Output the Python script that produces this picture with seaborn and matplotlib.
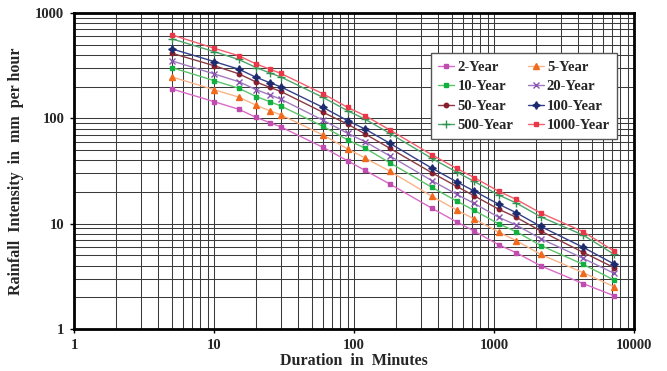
import matplotlib
matplotlib.use('Agg')
import matplotlib.pyplot as plt
import pandas as pd
import seaborn as sns
from matplotlib.ticker import FixedLocator, LogLocator, NullFormatter

durations = [5, 10, 15, 20, 25, 30, 60, 90, 120, 180, 360, 540, 720, 1080, 1440, 2160, 4320, 7200]

yr2 = [190, 144, 122, 102, 91, 83, 53, 39.5, 32, 23.8, 14, 10.4, 8.5, 6.3, 5.3, 3.97, 2.7, 2.07]
yr5 = [247, 187, 159, 133, 118, 108, 69.5, 51.3, 42, 31.5, 18.2, 13.5, 11.1, 8.3, 6.9, 5.1, 3.43, 2.52]
yr10 = [303, 228, 193, 161, 144, 131, 84, 62.4, 52, 37.9, 22.1, 16.4, 13.4, 9.95, 8.4, 6.2, 4.11, 2.92]
yr20 = [351, 264, 223, 187, 167, 152, 96, 72, 60, 44, 25.6, 19, 15.6, 11.5, 9.7, 7.2, 4.69, 3.38]
yr50 = [415, 316, 265, 221, 197, 180, 114, 88, 71, 52, 30.4, 22.6, 18.4, 13.7, 11.5, 8.5, 5.35, 3.82]
yr100 = [456, 346, 293, 245, 218, 199, 127, 95, 79, 58, 33.6, 25, 20.4, 15.3, 12.7, 9.4, 5.97, 4.14]
yr500 = [568, 430, 362, 303, 270, 247, 158, 118, 98, 72, 41.6, 30.9, 25.2, 18.7, 15.7, 11.6, 7.8, 5.12]
yr1000 = [620, 463, 393, 328, 293, 267, 171, 127, 106, 77.6, 45, 33.5, 27.4, 20.3, 17, 12.6, 8.4, 5.5]

labels = ['2-Year', '5-Year', '10-Year', '20-Year', '50-Year', '100-Year', '500-Year', '1000-Year']
series = [yr2, yr5, yr10, yr20, yr50, yr100, yr500, yr1000]

# (line colour, marker colour, marker, size)
styles = [
    ('#DA6AC8', '#C04CB0', 's', 3.5),
    ('#F8B488', '#F06A1E', '^', 4.2),
    ('#5CC46A', '#12B040', 's', 3.5),
    ('#A07AC0', '#8A55B0', 'x', 4.2),
    ('#8A3A44', '#8B1E2C', 'o', 3.2),
    ('#34408A', '#1C2A6E', (4, 1, 0), 5.5),
    ('#4EA66A', '#2E9250', '+', 5.5),
    ('#F2606C', '#E83848', 's', 2.4),
]

sns.set_theme(style='white')
plt.rcParams['font.family'] = ['Liberation Serif', 'DejaVu Serif']
plt.rcParams['font.weight'] = 'bold'

fig = plt.figure(figsize=(6.67, 3.71), dpi=100)
ax = fig.add_axes([0.111, 0.1132, 0.8396, 0.8518])
ax.set_xscale('log')
ax.set_yscale('log')

for lab, vals, (lc, mc, mk, ms) in zip(labels, series, styles):
    df = pd.DataFrame({'Duration': durations, 'Intensity': vals})
    sns.lineplot(data=df, x='Duration', y='Intensity', ax=ax, color=lc, lw=1.0,
                 marker=mk, markersize=ms, markerfacecolor=mc, markeredgecolor=mc,
                 markeredgewidth=1.0, label=lab)

ax.set_xlim(1, 10000)
ax.set_ylim(1, 1000)
ax.xaxis.set_major_locator(FixedLocator([1, 10, 100, 1000, 10000]))
ax.yaxis.set_major_locator(FixedLocator([1, 10, 100, 1000]))
ax.set_xticklabels(['1', '10', '100', '1000', '10000'])
ax.set_yticklabels(['1', '10', '100', '1000'])
ax.xaxis.set_minor_locator(LogLocator(base=10, subs=range(2, 10), numticks=20))
ax.yaxis.set_minor_locator(LogLocator(base=10, subs=range(2, 10), numticks=20))
ax.xaxis.set_minor_formatter(NullFormatter())
ax.yaxis.set_minor_formatter(NullFormatter())
ax.grid(True, which='both', color='#3a3a3a', lw=0.75)
ax.set_axisbelow(True)
ax.tick_params(axis='both', which='major', length=3, width=1, color='black',
               labelsize=10.5, pad=4, bottom=True, left=True)
ax.tick_params(axis='both', which='minor', length=0)
for lbl in ax.get_xticklabels() + ax.get_yticklabels():
    lbl.set_fontweight('bold')
for sp in ax.spines.values():
    sp.set_color('black')
    sp.set_linewidth(2)

ax.set_xlabel('Duration  in  Minutes', fontsize=11.5, fontweight='bold', labelpad=1)
ax.set_ylabel('Rainfall  Intensity  in  mm  per hour', fontsize=11.5, fontweight='bold', labelpad=8)

handles, labs = ax.get_legend_handles_labels()
order = [0, 2, 4, 6, 1, 3, 5, 7]
leg = ax.legend([handles[i] for i in order], [labs[i] for i in order], ncol=2,
                loc='upper right', bbox_to_anchor=(0.983, 0.895), fontsize=10.5,
                frameon=True, fancybox=False, framealpha=1, edgecolor='#555555',
                handlelength=1.1, handletextpad=0.2, columnspacing=1.0,
                labelspacing=0.42, borderpad=0.5)
leg.get_frame().set_linewidth(1.0)
for t in leg.get_texts():
    t.set_fontweight('bold')

fig.savefig('out.png', dpi=100)
